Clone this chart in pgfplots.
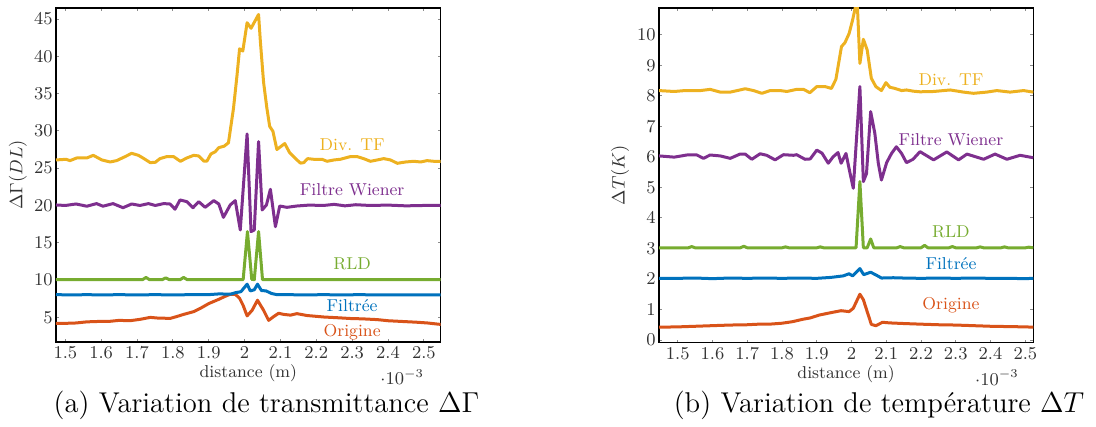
\documentclass[border=0pt]{standalone}
\usepackage{pgfplots}
\pgfplotsset{compat=1.18}
\definecolor{cOr}{rgb}{0.850,0.325,0.098}
\definecolor{cBl}{rgb}{0.000,0.447,0.741}
\definecolor{cGr}{rgb}{0.466,0.674,0.188}
\definecolor{cPu}{rgb}{0.494,0.184,0.556}
\definecolor{cYe}{rgb}{0.929,0.694,0.125}
\newcommand{\sm}{\fontsize{8.6}{10}\selectfont}
\tikzset{lab/.style={font=\sm, anchor=center}}
\pgfplotsset{
  myax/.style={
    scale only axis,
    clip mode=individual,
    axis line style={black, line width=0.6pt},
    tick style={black!45, line width=0.4pt},
    tick align=inside,
    major tick length=1.5pt,
    xtick={1.5,1.6,1.7,1.8,1.9,2,2.1,2.2,2.3,2.4,2.5},
    tick label style={font=\sm, text=black!80},
    yticklabel style={inner sep=1.5pt},
    xticklabel style={inner sep=2.2pt},
    label style={font=\sm, text=black!80},
    xlabel={distance (m)},
    xlabel style={at={(axis description cs:0.5,-0.093)}, anchor=center},
    every axis plot/.append style={line width=1.5pt, line join=round, mark=none},
  },
}
\begin{document}
\begin{tikzpicture}
\useasboundingbox (0,0) rectangle (548pt,213.5pt);
% ---------------- left panel ----------------
\begin{axis}[myax,
  at={(28pt,42.5pt)}, anchor=south west,
  width=192.35pt, height=167pt,
  xmin=1.474, xmax=2.547, ymin=1.7, ymax=46.47,
  ytick={5,10,15,20,25,30,35,40,45},
  ylabel={$\Delta\Gamma(DL)$},
  ylabel style={at={(axis description cs:-0.099,0.5)}, anchor=center},
]
\addplot[cOr] coordinates {
(1.474,4.20)(1.500,4.20)(1.530,4.25)(1.560,4.40)(1.590,4.45)(1.620,4.45)(1.650,4.60)(1.680,4.55)(1.710,4.75)(1.737,5.00)(1.760,4.90)(1.793,4.87)(1.810,5.10)(1.830,5.40)(1.858,5.77)(1.880,6.30)(1.900,6.85)(1.928,7.42)(1.945,7.80)(1.960,8.10)(1.974,8.10)(1.986,7.56)(1.996,6.60)(2.007,5.20)(2.021,5.95)(2.036,7.30)(2.053,5.95)(2.067,4.60)(2.081,5.10)(2.095,5.55)(2.109,5.40)(2.128,5.30)(2.146,5.50)(2.174,5.25)(2.221,5.05)(2.260,4.95)(2.295,4.85)(2.330,4.80)(2.370,4.70)(2.400,4.55)(2.440,4.45)(2.480,4.35)(2.510,4.25)(2.548,4.05)
};
\addplot[cBl] coordinates {
(1.474,8.05)(1.520,8.00)(1.560,8.05)(1.600,8.00)(1.650,8.05)(1.700,8.00)(1.750,8.05)(1.800,8.00)(1.850,8.05)(1.900,8.05)(1.930,8.15)(1.960,8.10)(1.974,8.30)(1.990,8.45)(2.007,9.45)(2.016,8.55)(2.027,8.70)(2.036,9.45)(2.047,8.60)(2.060,8.55)(2.075,8.20)(2.090,8.05)(2.120,8.05)(2.170,8.00)(2.220,8.05)(2.270,8.00)(2.320,8.05)(2.370,8.00)(2.420,8.02)(2.470,8.00)(2.548,8.00)
};
\addplot[cGr] coordinates {
(1.474,10.05)(1.715,10.05)(1.725,10.35)(1.735,10.05)(1.770,10.05)(1.780,10.30)(1.790,10.05)(1.820,10.05)(1.830,10.35)(1.840,10.05)(1.996,10.05)(2.008,16.50)(2.020,10.10)(2.027,10.05)(2.039,16.50)(2.050,10.05)(2.548,10.05)
};
\addplot[cPu] coordinates {
(1.474,20.07)(1.500,20.00)(1.530,20.20)(1.560,19.90)(1.587,20.25)(1.605,19.90)(1.633,20.25)(1.661,19.70)(1.685,20.20)(1.708,20.00)(1.732,20.25)(1.751,20.00)(1.774,20.25)(1.792,20.20)(1.806,19.50)(1.820,20.74)(1.839,20.51)(1.856,19.70)(1.872,20.51)(1.890,19.75)(1.914,20.65)(1.928,20.20)(1.941,18.41)(1.960,20.07)(1.974,20.65)(1.988,16.72)(2.007,29.59)(2.018,16.49)(2.027,16.72)(2.039,28.56)(2.049,19.40)(2.061,20.07)(2.072,22.17)(2.086,17.16)(2.098,19.93)(2.118,19.75)(2.146,19.93)(2.180,20.05)(2.220,20.00)(2.250,20.15)(2.280,19.95)(2.310,20.10)(2.350,20.00)(2.400,20.05)(2.450,19.95)(2.500,20.00)(2.548,20.00)
};
\addplot[cYe] coordinates {
(1.474,26.10)(1.502,26.19)(1.513,26.01)(1.532,26.37)(1.560,26.37)(1.578,26.72)(1.602,26.10)(1.625,25.83)(1.643,26.01)(1.667,26.55)(1.685,26.99)(1.704,26.72)(1.718,26.32)(1.737,25.74)(1.751,25.79)(1.764,26.28)(1.783,26.55)(1.802,26.55)(1.821,25.92)(1.839,26.37)(1.858,26.72)(1.872,26.64)(1.886,25.95)(1.895,25.95)(1.906,26.90)(1.918,27.20)(1.928,27.75)(1.943,27.95)(1.955,28.40)(1.969,33.00)(1.979,37.50)(1.986,41.00)(1.995,40.70)(2.007,44.50)(2.018,43.75)(2.039,45.60)(2.044,42.00)(2.053,36.50)(2.062,33.10)(2.070,30.60)(2.079,29.95)(2.090,27.50)(2.112,28.30)(2.126,27.05)(2.142,26.28)(2.156,25.68)(2.165,25.74)(2.176,26.28)(2.193,26.19)(2.216,26.19)(2.230,25.92)(2.249,26.10)(2.267,26.19)(2.295,26.55)(2.314,26.55)(2.332,26.28)(2.351,25.92)(2.370,26.10)(2.388,26.28)(2.407,26.10)(2.426,25.65)(2.449,25.83)(2.472,25.92)(2.491,25.83)(2.509,26.01)(2.528,25.92)(2.548,25.92)
};
\node[lab, text=cYe] at (axis cs:2.30,28.1) {Div. TF};
\node[lab, text=cPu] at (axis cs:2.30,22.17) {Filtre Wiener};
\node[lab, text=cGr] at (axis cs:2.30,12.16) {RLD};
\node[lab, text=cBl] at (axis cs:2.30,6.53) {Filtrée};
\node[lab, text=cOr] at (axis cs:2.30,3.0) {Origine};
\node[font=\sm, text=black!80, anchor=center] at (axis description cs:0.90,-0.105) {$\cdot 10^{-3}$};
\end{axis}
% ---------------- right panel ----------------
\begin{axis}[myax,
  at={(329.5pt,42.15pt)}, anchor=south west,
  width=187.15pt, height=167.35pt,
  xmin=1.446, xmax=2.523, ymin=-0.088, ymax=10.875,
  ytick={0,1,2,3,4,5,6,7,8,9,10},
  ylabel={$\Delta T(K)$},
  ylabel style={at={(axis description cs:-0.104,0.5)}, anchor=center},
]
\addplot[cOr] coordinates {
(1.446,0.42)(1.500,0.43)(1.550,0.45)(1.600,0.47)(1.650,0.49)(1.700,0.50)(1.735,0.52)(1.765,0.52)(1.800,0.55)(1.830,0.60)(1.860,0.68)(1.880,0.72)(1.908,0.82)(1.947,0.91)(1.970,0.96)(1.993,0.93)(2.005,1.04)(2.024,1.50)(2.034,1.32)(2.045,0.93)(2.057,0.51)(2.070,0.47)(2.089,0.58)(2.110,0.56)(2.150,0.54)(2.197,0.52)(2.250,0.50)(2.300,0.49)(2.350,0.47)(2.400,0.45)(2.450,0.44)(2.500,0.43)(2.523,0.42)
};
\addplot[cBl] coordinates {
(1.446,2.02)(1.500,2.02)(1.550,2.03)(1.600,2.01)(1.650,2.03)(1.700,2.02)(1.750,2.03)(1.800,2.02)(1.850,2.03)(1.900,2.02)(1.940,2.05)(1.976,2.10)(1.993,2.17)(2.003,2.10)(2.024,2.34)(2.035,2.14)(2.055,2.22)(2.072,2.12)(2.086,2.03)(2.120,2.04)(2.150,2.03)(2.200,2.02)(2.250,2.03)(2.300,2.02)(2.350,2.03)(2.400,2.02)(2.450,2.02)(2.500,2.01)(2.523,2.02)
};
\addplot[cGr] coordinates {
(1.446,3.02)(1.530,3.02)(1.540,3.06)(1.550,3.02)(1.680,3.02)(1.690,3.07)(1.700,3.02)(1.800,3.02)(1.810,3.05)(1.820,3.02)(1.900,3.02)(1.910,3.05)(1.920,3.02)(2.013,3.02)(2.024,5.19)(2.034,3.02)(2.045,3.02)(2.055,3.31)(2.064,3.02)(2.130,3.02)(2.140,3.06)(2.150,3.02)(2.200,3.02)(2.210,3.10)(2.220,3.02)(2.280,3.02)(2.290,3.06)(2.300,3.02)(2.360,3.02)(2.370,3.05)(2.380,3.02)(2.430,3.02)(2.440,3.05)(2.450,3.02)(2.500,3.02)(2.510,3.04)(2.523,3.02)
};
\addplot[cPu] coordinates {
(1.446,6.03)(1.490,5.99)(1.526,6.06)(1.555,6.06)(1.574,5.95)(1.593,6.06)(1.622,6.03)(1.651,5.95)(1.679,6.09)(1.694,6.09)(1.713,5.92)(1.737,6.10)(1.756,6.05)(1.780,5.90)(1.804,6.07)(1.833,6.05)(1.842,6.07)(1.866,5.92)(1.881,5.93)(1.900,6.22)(1.915,6.12)(1.933,5.79)(1.947,6.00)(1.961,6.14)(1.970,5.79)(1.984,6.11)(1.995,5.50)(2.005,4.97)(2.024,8.30)(2.034,5.19)(2.043,5.45)(2.055,7.48)(2.067,6.77)(2.077,5.79)(2.086,5.24)(2.101,5.81)(2.115,6.11)(2.129,6.33)(2.144,6.11)(2.158,5.81)(2.177,5.92)(2.197,6.17)(2.236,5.90)(2.274,6.16)(2.308,5.90)(2.332,6.09)(2.380,5.92)(2.413,6.09)(2.447,5.92)(2.485,6.05)(2.523,5.97)
};
\addplot[cYe] coordinates {
(1.446,8.17)(1.490,8.14)(1.520,8.17)(1.565,8.17)(1.593,8.21)(1.622,8.12)(1.651,8.12)(1.679,8.19)(1.694,8.23)(1.718,8.17)(1.742,8.08)(1.766,8.17)(1.795,8.17)(1.814,8.14)(1.842,8.21)(1.862,8.21)(1.880,8.10)(1.900,8.30)(1.924,8.30)(1.942,8.24)(1.955,8.54)(1.971,9.61)(1.981,9.74)(1.993,10.04)(2.003,10.48)(2.012,10.95)(2.017,10.90)(2.024,9.06)(2.034,9.85)(2.045,9.50)(2.057,8.57)(2.070,8.30)(2.086,8.17)(2.099,8.43)(2.110,8.28)(2.125,8.24)(2.144,8.17)(2.158,8.19)(2.178,8.15)(2.197,8.13)(2.236,8.14)(2.284,8.19)(2.322,8.12)(2.351,8.08)(2.389,8.12)(2.418,8.17)(2.456,8.12)(2.495,8.17)(2.523,8.12)
};
\node[lab, text=cYe] at (axis cs:2.286,8.52) {Div. TF};
\node[lab, text=cPu] at (axis cs:2.286,6.55) {Filtre Wiener};
\node[lab, text=cGr] at (axis cs:2.286,3.55) {RLD};
\node[lab, text=cBl] at (axis cs:2.286,2.51) {Filtrée};
\node[lab, text=cOr] at (axis cs:2.286,1.15) {Origine};
\node[font=\sm, text=black!80, anchor=center] at (axis description cs:0.903,-0.105) {$\cdot 10^{-3}$};
\end{axis}
% captions
\node[font=\fontsize{14.3}{17}\selectfont, anchor=center] at (133.25pt,11pt) {(a) Variation de transmittance $\Delta\Gamma$};
\node[font=\fontsize{14.3}{17}\selectfont, anchor=center] at (439.5pt,11pt) {(b) Variation de température $\Delta T$};
\end{tikzpicture}
\end{document}
